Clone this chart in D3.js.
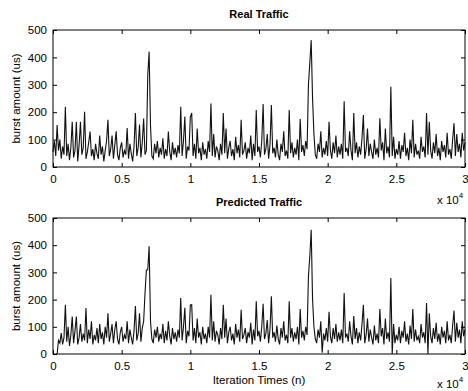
<!DOCTYPE html>
<html>
<head>
<meta charset="utf-8">
<script src="https://cdn.jsdelivr.net/npm/d3@7"></script>
<style>
  body { margin: 0; background: #fff; }
  text { font-family: 'Liberation Sans', Arial, sans-serif; fill: #000; }
</style>
</head>
<body>
<figure class="traffic" style="margin:0"></figure>
<script>
// samples every 100 iterations
const sampleStep = 100;

const realTraffic = [
  55, 95, 40, 153, 60, 100, 30, 75, 45, 220,
  40, 85, 25, 70, 165, 35, 60, 165, 20, 80,
  165, 45, 70, 202, 30, 55, 90, 129, 40, 65,
  25, 85, 50, 30, 115, 45, 75, 20, 60, 95,
  172, 40, 65, 115, 30, 80, 130, 45, 25, 70,
  90, 35, 60, 45, 142, 30, 85, 50, 20, 75,
  197, 40, 70, 155, 35, 90, 177, 45, 60, 336,
  421, 150, 40, 30, 85, 50, 95, 35, 70, 45,
  105, 30, 65, 40, 129, 55, 25, 90, 45, 70,
  35, 80, 50, 220, 40, 95, 184, 30, 75, 60,
  182, 197, 40, 85, 30, 140, 50, 70, 25, 90,
  45, 65, 30, 95, 55, 232, 40, 120, 35, 75,
  60, 25, 85, 45, 197, 50, 140, 30, 70, 95,
  40, 65, 25, 110, 50, 80, 35, 172, 45, 60,
  90, 30, 70, 50, 115, 25, 85, 40, 208, 55,
  75, 35, 95, 230, 45, 65, 120, 30, 80, 226,
  50, 70, 35, 100, 45, 25, 85, 55, 130, 40,
  60, 30, 208, 50, 90, 35, 70, 45, 100, 25,
  175, 55, 80, 40, 95, 65, 300, 380, 463, 250,
  120, 45, 30, 85, 55, 130, 35, 70, 45, 95,
  40, 165, 60, 30, 90, 50, 115, 35, 75, 45,
  85, 30, 240, 55, 70, 40, 130, 60, 25, 197,
  50, 90, 35, 75, 45, 105, 190, 30, 65, 140,
  40, 85, 55, 30, 100, 45, 70, 35, 178, 60,
  90, 25, 140, 50, 75, 35, 293, 40, 110, 30,
  65, 45, 95, 30, 80, 55, 125, 40, 70, 25,
  100, 50, 172, 35, 85, 45, 60, 30, 110, 55,
  75, 35, 197, 45, 165, 60, 30, 90, 50, 120,
  40, 70, 25, 95, 55, 80, 35, 125, 45, 65,
  30, 100, 160, 40, 120, 55, 85, 35, 125, 60,
  90
];

// prediction starts a little after iteration 0
const predictedTraffic = [
  null, null, null, 0, 50, 40, 77, 35, 60, 181,
  45, 100, 30, 70, 138, 40, 85, 138, 35, 60,
  110, 45, 75, 50, 169, 40, 90, 55, 120, 35,
  70, 50, 95, 40, 110, 55, 80, 35, 100, 60,
  150, 45, 75, 110, 40, 90, 120, 55, 35, 80,
  100, 45, 70, 55, 120, 40, 90, 60, 35, 85,
  176, 50, 75, 150, 45, 95, 120, 223, 309, 310,
  396, 120, 55, 40, 90, 60, 100, 45, 75, 55,
  110, 40, 85, 50, 120, 65, 35, 95, 55, 80,
  45, 90, 60, 206, 50, 100, 170, 40, 85, 65,
  180, 181, 50, 95, 40, 130, 60, 80, 35, 100,
  55, 75, 40, 100, 60, 218, 50, 120, 45, 85,
  70, 35, 95, 55, 181, 60, 130, 40, 80, 100,
  50, 75, 35, 110, 60, 90, 45, 163, 55, 70,
  95, 40, 80, 60, 115, 35, 90, 50, 194, 65,
  85, 45, 100, 185, 55, 75, 125, 40, 90, 212,
  60, 80, 45, 105, 55, 35, 95, 60, 120, 50,
  70, 40, 194, 60, 95, 45, 80, 55, 100, 35,
  165, 60, 85, 50, 100, 70, 286, 360, 457, 200,
  100, 55, 40, 90, 60, 120, 5, 75, 50, 95,
  45, 155, 65, 40, 95, 55, 110, 45, 80, 50,
  90, 40, 224, 60, 75, 45, 120, 65, 35, 140,
  55, 95, 40, 80, 50, 110, 181, 40, 70, 130,
  45, 90, 60, 35, 105, 50, 75, 40, 165, 65,
  95, 35, 130, 55, 80, 45, 279, 0, 110, 40,
  70, 50, 100, 40, 85, 60, 120, 45, 75, 35,
  105, 55, 165, 45, 90, 50, 65, 40, 110, 60,
  80, 40, 187, 0, 150, 65, 40, 95, 55, 115,
  45, 75, 35, 100, 60, 85, 40, 120, 50, 70,
  40, 105, 160, 45, 115, 60, 90, 40, 120, 65,
  90
];

const xTicks = [0, 5000, 10000, 15000, 20000, 25000, 30000];
const yTicks = [0, 100, 200, 300, 400, 500];
const titles = ['Real Traffic', 'Predicted Traffic'];

const width = 468;
const height = 391;
const margin = {left: 53, right: 3};

const svg = d3.select('figure.traffic')
  .append('svg')
  .attr('width', width)
  .attr('height', height);

const x = d3.scaleLinear()
  .domain([0, 30000])
  .range([margin.left, width - margin.right]);

function drawPanel(values, title, top, bottom, showXTitle) {
  const g = svg.append('g');

  const y = d3.scaleLinear()
    .domain([0, 500])
    .range([bottom, top]);

  // traffic line
  const line = d3.line()
    .defined(d => d != null)
    .x((d, i) => x(i * sampleStep))
    .y(d => y(d));

  g.append('path')
    .datum(values)
    .attr('fill', 'none')
    .attr('stroke', '#111')
    .attr('stroke-width', 1.1)
    .attr('d', line);

  // x axis
  g.append('g')
    .attr('transform', 'translate(0,' + bottom + ')')
    .call(d3.axisBottom(x).tickValues(xTicks).tickSizeInner(-4).tickSizeOuter(0)
      .tickPadding(8).tickFormat(d => d / 10000))
    .call(a => a.select('.domain').remove())
    .selectAll('text')
      .style('font-size', '11.5px');

  // mirrored ticks on top
  g.append('g')
    .attr('transform', 'translate(0,' + top + ')')
    .call(d3.axisTop(x).tickValues(xTicks).tickSizeInner(-4).tickSizeOuter(0).tickFormat(''))
    .call(a => a.select('.domain').remove());

  // y axis
  g.append('g')
    .attr('transform', 'translate(' + margin.left + ',0)')
    .call(d3.axisLeft(y).tickValues(yTicks).tickSizeInner(-4).tickSizeOuter(0).tickPadding(6))
    .call(a => a.select('.domain').remove())
    .selectAll('text')
      .style('font-size', '11.5px');

  g.append('g')
    .attr('transform', 'translate(' + (width - margin.right) + ',0)')
    .call(d3.axisRight(y).tickValues(yTicks).tickSizeInner(-4).tickSizeOuter(0).tickFormat(''))
    .call(a => a.select('.domain').remove());

  // box
  g.append('rect')
    .attr('x', margin.left)
    .attr('y', top)
    .attr('width', width - margin.right - margin.left)
    .attr('height', bottom - top)
    .attr('fill', 'none')
    .attr('stroke', '#000')
    .attr('stroke-width', 1);

  // title
  g.append('text')
    .attr('x', (margin.left + width - margin.right) / 2)
    .attr('y', top - 12)
    .attr('text-anchor', 'middle')
    .style('font-size', '11px')
    .style('font-weight', 'bold')
    .text(title);

  // y axis title
  g.append('text')
    .attr('transform', 'translate(20,' + ((top + bottom) / 2) + ') rotate(-90)')
    .attr('text-anchor', 'middle')
    .style('font-size', '11.5px')
    .text('burst amount (us)');

  // exponent label
  const expo = g.append('text')
    .attr('x', 437)
    .attr('y', Math.min(bottom + 37, height - 3))
    .style('font-size', '11.5px');
  expo.append('tspan').text('x 10');
  expo.append('tspan').attr('dy', -6).style('font-size', '8px').text('4');

  if (showXTitle) {
    g.append('text')
      .attr('x', (margin.left + width - margin.right) / 2)
      .attr('y', bottom + 30)
      .attr('text-anchor', 'middle')
      .style('font-size', '11.5px')
      .text('Iteration Times (n)');
  }
}

drawPanel(realTraffic, titles[0], 30, 167, false);
drawPanel(predictedTraffic, titles[1], 218, 354, true);
</script>
</body>
</html>
